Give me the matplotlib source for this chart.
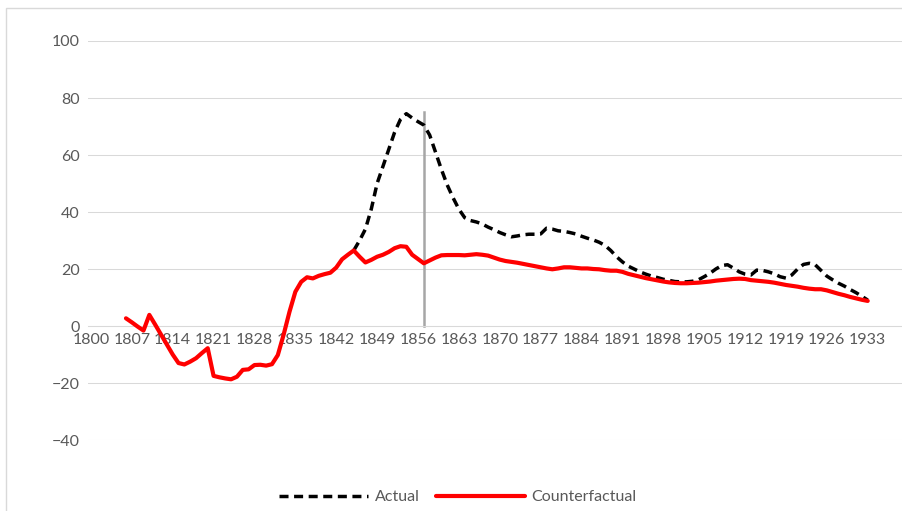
import matplotlib
matplotlib.use("Agg")
import matplotlib.pyplot as plt
from matplotlib.patches import Rectangle

plt.rcParams['font.family'] = ['Lato', 'DejaVu Sans']

# Counterfactual series (annual)
cf_years = list(range(1806, 1934))
cf_values = [
    2.7, 1.3, -0.2, -1.6, 3.9, 0.5, -3.0, -6.5, -10.0, -13.0,           # 1806-1815
    -13.5, -12.5, -11.3, -9.5, -7.8, -17.5, -18.0, -18.4, -18.7, -17.8,  # 1816-1825
    -15.4, -15.2, -13.7, -13.6, -13.9, -13.4, -10.2, -3.0, 5.0, 12.0,    # 1826-1835
    15.5, 17.1, 16.7, 17.6, 18.2, 18.7, 20.5, 23.4, 25.0, 26.5,          # 1836-1845
    24.3, 22.3, 23.2, 24.3, 25.0, 26.0, 27.3, 28.0, 27.8, 25.0,          # 1846-1855
    23.5, 22.0, 23.0, 24.0, 24.8, 24.9, 24.9, 24.9, 24.8, 25.0,          # 1856-1865
    25.2, 25.0, 24.7, 24.0, 23.3, 22.8, 22.5, 22.2, 21.8, 21.4,          # 1866-1875
    21.0, 20.6, 20.2, 19.9, 20.2, 20.6, 20.6, 20.4, 20.2, 20.2,          # 1876-1885
    20.0, 19.9, 19.6, 19.4, 19.4, 19.0, 18.3, 17.8, 17.3, 16.8,          # 1886-1895
    16.4, 16.0, 15.6, 15.3, 15.1, 15.0, 15.0, 15.1, 15.2, 15.4,          # 1896-1905
    15.6, 15.9, 16.1, 16.3, 16.5, 16.6, 16.5, 16.1, 15.9, 15.7,          # 1906-1915
    15.5, 15.2, 14.8, 14.4, 14.1, 13.8, 13.4, 13.1, 12.9, 12.9,          # 1916-1925
    12.5, 11.9, 11.3, 10.8, 10.2, 9.7, 9.2, 8.8,                         # 1926-1933
]

# Actual series (diverges from the counterfactual from 1845)
act_years = list(range(1845, 1934))
act_values = [
    26.5, 30.0, 34.0, 41.0, 50.0, 56.0, 62.0, 68.0, 72.5, 74.5,          # 1845-1854
    73.0, 71.7, 70.5, 67.0, 61.0, 55.0, 49.5, 45.0, 41.0, 38.0,          # 1855-1864
    37.0, 36.5, 35.8, 34.7, 33.8, 32.8, 32.0, 31.3, 31.6, 32.0,          # 1865-1874
    32.2, 32.2, 32.3, 34.3, 34.0, 33.4, 33.2, 32.8, 32.3, 31.5,          # 1875-1884
    30.8, 30.2, 29.4, 28.3, 26.5, 24.3, 22.5, 21.0, 20.0, 19.0,          # 1885-1894
    18.2, 17.5, 17.0, 16.4, 16.0, 15.6, 15.5, 15.5, 15.7, 16.2,          # 1895-1904
    17.3, 18.5, 20.0, 21.2, 21.5, 20.3, 19.0, 18.2, 17.9, 19.6,          # 1905-1914
    19.5, 19.0, 18.3, 17.3, 16.8, 17.9, 20.0, 21.6, 22.0, 21.5,          # 1915-1924
    19.5, 17.5, 16.2, 15.0, 14.0, 12.8, 11.7, 10.4, 9.1,                 # 1925-1933
]

marker_year = 1857
marker_top = 75

tick_years = list(range(1800, 1934, 7))
y_ticks = list(range(-40, 101, 20))

W, H = 903, 511
fig = plt.figure(figsize=(W / 100, H / 100), dpi=100)

# outer chart-area border (only left and top visible in the crop)
fig.patches.append(Rectangle((5.5 / W, -0.1), 1.2, (H - 8) / H + 0.1,
                             transform=fig.transFigure, fill=False,
                             edgecolor="#D9D9D9", linewidth=1.0))

ax = fig.add_axes([88 / W, (H - 440) / H, (W - 88) / W, 399 / H])
ax.set_xlim(1799.5, 1800 + (W - 91) / 5.84)
ax.set_ylim(-40, 100)

for s in ["top", "right", "left"]:
    ax.spines[s].set_visible(False)
ax.spines["bottom"].set_position(("data", 0))
ax.spines["bottom"].set_color("#D9D9D9")
ax.spines["bottom"].set_linewidth(0.75)

ax.set_yticks(y_ticks)
ax.set_xticks(tick_years)
ax.set_xticklabels([str(y) for y in tick_years])
ax.tick_params(axis="both", length=0, labelsize=11.5, labelcolor="#595959")
ax.tick_params(axis="y", pad=6)
ax.tick_params(axis="x", pad=5)
ax.grid(axis="y", color="#D9D9D9", linewidth=0.75)
ax.set_axisbelow(True)

ax.plot([marker_year, marker_year], [0, marker_top], color="#A6A6A6",
        linewidth=1.8, zorder=2)

ax.plot(act_years, act_values, color="black", linewidth=2.5,
        dashes=(2.6, 1.6), label="Actual", zorder=3)
ax.plot(cf_years, cf_values, color="#FF0000", linewidth=3.0,
        solid_capstyle="round", solid_joinstyle="round",
        label="Counterfactual", zorder=4)

fig.legend(loc="center", bbox_to_anchor=(0.507, 0.027), ncol=2,
           frameon=False, fontsize=11.5, handlelength=5.6,
           columnspacing=1.0, handletextpad=0.4, labelcolor="#595959")

fig.savefig("out.png", dpi=100)
